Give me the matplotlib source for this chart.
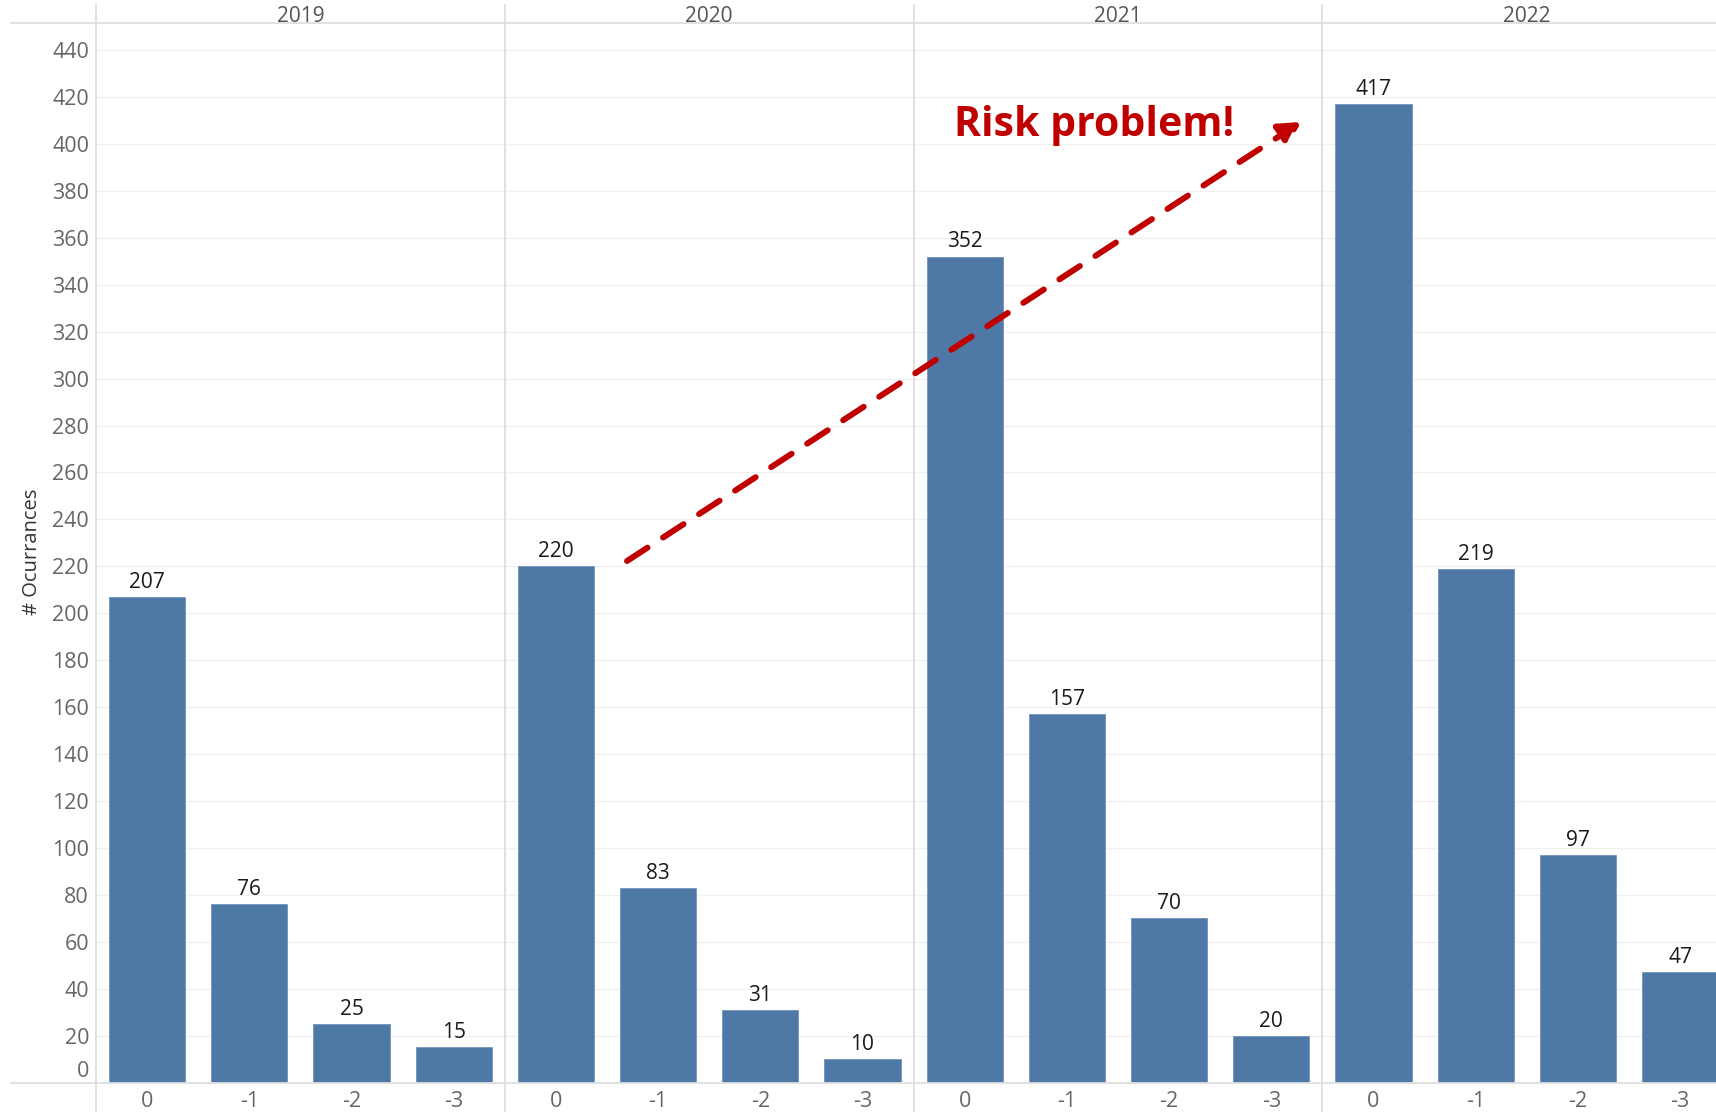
import matplotlib
matplotlib.use("Agg")
import matplotlib.pyplot as plt
import matplotlib.transforms as mtransforms
import numpy as np

years = ["2019", "2020", "2021", "2022"]
categories = ["0", "-1", "-2", "-3"]
v2019 = [207, 76, 25, 15]
v2020 = [220, 83, 31, 10]
v2021 = [352, 157, 70, 20]
v2022 = [417, 219, 97, 47]
y_ticks = list(range(0, 441, 20))
y_label = "# Ocurrances"
annotation_text = "Risk problem!"

W, H = 1716, 1112
DPI = 100
plt.rcParams["font.family"] = ["Open Sans", "DejaVu Sans"]
fig = plt.figure(figsize=(W / DPI, H / DPI), dpi=DPI)

ax_left, ax_right = 96, 1716
ax_bottom, ax_top = 1082.7, 23
ax = fig.add_axes([ax_left / W, (H - ax_bottom) / H, (ax_right - ax_left) / W, (ax_bottom - ax_top) / H])

slot_px = 102.2
xmax = -0.5 + (ax_right - ax_left) / slot_px
px_per_unit = 2.347
ymax = (ax_bottom - ax_top) / px_per_unit
ax.set_xlim(-0.5, xmax)
ax.set_ylim(0, ymax)

all_vals = [v2019, v2020, v2021, v2022]
bar_color = "#4E79A7"
positions = []
labels = []
for p, vals in enumerate(all_vals):
    for i, v in enumerate(vals):
        x = p * len(categories) + i
        positions.append(x)
        labels.append(categories[i])
        ax.bar(x, v, width=0.745, color=bar_color, edgecolor="#7393bb", linewidth=0.6, zorder=3)
        ax.annotate(str(v), (x, v), xytext=(0, 3), textcoords="offset points",
                    ha="center", va="bottom", fontsize=15, color="#1a1a1a", zorder=4)

# gridlines
for t in y_ticks[1:]:
    ax.axhline(t, color="#f0f0f0", linewidth=1, zorder=0)

ax.set_yticks(y_ticks)
ax.set_yticklabels([str(t) for t in y_ticks])
ax.set_xticks(positions)
ax.set_xticklabels(labels)
ax.tick_params(axis="both", length=0, labelsize=15.5, labelcolor="#666666")
ax.tick_params(axis="y", pad=5)
ax.tick_params(axis="x", pad=6)
# the "0" y label sits raised in the reference
lbl0 = ax.get_yticklabels()[0]
lbl0.set_transform(lbl0.get_transform() + mtransforms.ScaledTranslation(0, 14 / DPI, fig.dpi_scale_trans))

for s in ax.spines.values():
    s.set_visible(False)

line_col = "#dedede"
ax_w_px = ax_right - ax_left
ax_h_px = ax_bottom - ax_top
xmin_ext = (11 - ax_left) / ax_w_px
ax.axhline(0, xmin=xmin_ext, xmax=1, color=line_col, linewidth=1.3, clip_on=False, zorder=5)
ax.axhline(ymax, xmin=xmin_ext, xmax=1, color=line_col, linewidth=1.3, clip_on=False, zorder=5)
ymin_ext = (ax_bottom - H) / ax_h_px
ymax_ext = (ax_bottom - 5) / ax_h_px
for p in range(len(years)):
    xb = p * len(categories) - 0.5
    ax.axvline(xb, ymin=ymin_ext, ymax=ymax_ext, color=line_col, linewidth=1.3, clip_on=False, zorder=5)

# year headers
for p, yr in enumerate(years):
    xc = p * len(categories) + (len(categories) - 1) / 2
    ax.text(xc, ymax + 6 / px_per_unit, yr, ha="center", va="center", fontsize=15, color="#555555",
            clip_on=False)

ax.set_ylabel(y_label, fontsize=14.5, color="#333333")
ax.yaxis.set_label_coords((42 - ax_left) / ax_w_px, (ax_bottom - 552) / ax_h_px)

# annotation arrow
def to_data(px, py):
    return ((px - ax_left) / slot_px - 0.5, (ax_bottom - py) / px_per_unit)

start = to_data(627, 561)
end = to_data(1301, 122)
red = "#C00000"
ax.annotate("", xy=end, xytext=start,
            arrowprops=dict(arrowstyle="-|>,head_length=1.25,head_width=0.7", color=red, lw=4.3,
                            linestyle=(0, (4.1, 3.1)), shrinkA=0, shrinkB=0), zorder=6)
tx, ty = to_data(1094, 125)
ax.text(tx, ty, annotation_text, ha="center", va="center", fontsize=29.5, fontweight="bold",
        color=red, zorder=6)

fig.savefig("out.png", dpi=DPI)
